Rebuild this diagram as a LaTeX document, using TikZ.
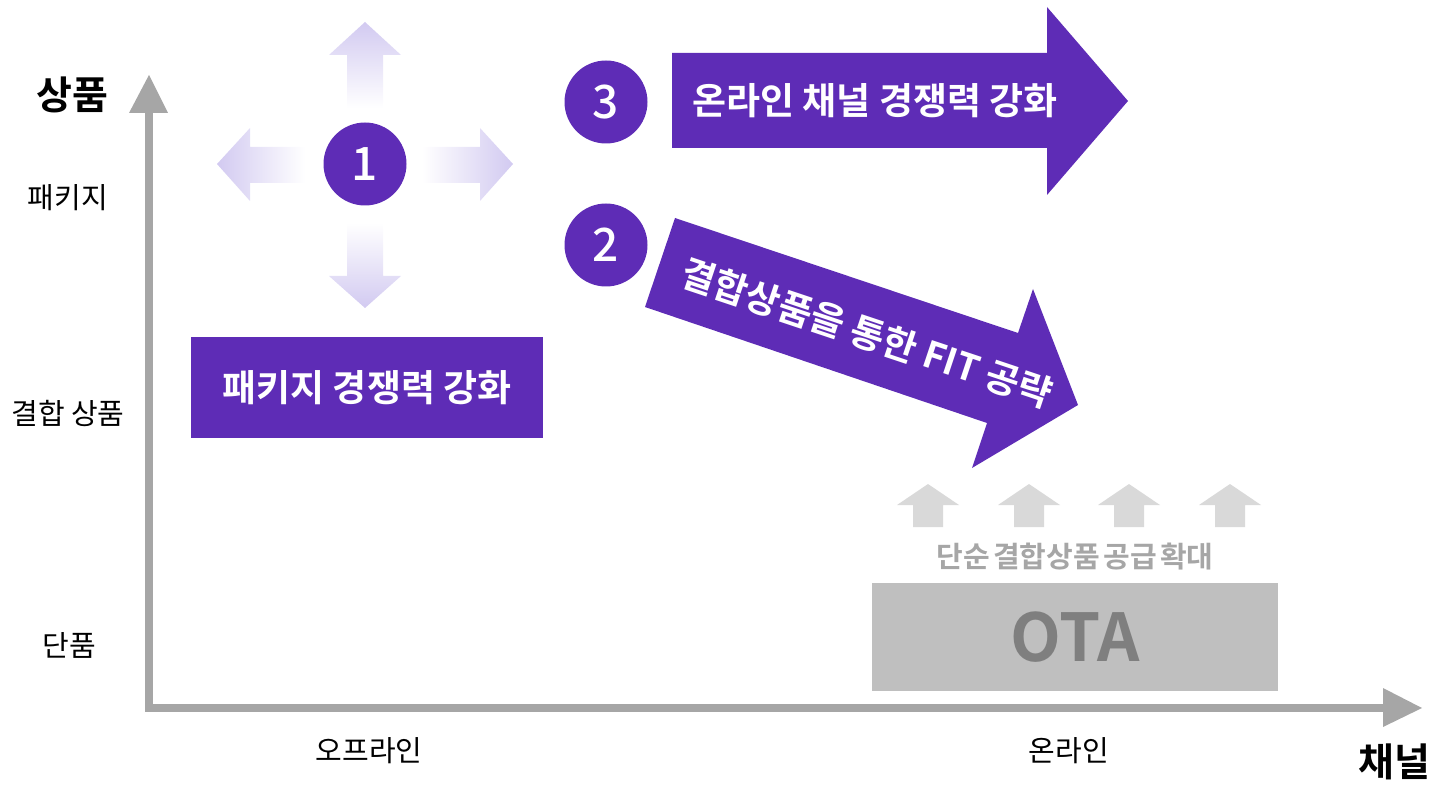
\documentclass[tikz,border=0pt]{standalone}
\usepackage{fontspec}
\setmainfont{Noto Sans CJK KR}[BoldFont={* Bold}]
\newfontfamily\medio{Noto Sans CJK KR Medium}
\usetikzlibrary{positioning}
\definecolor{morado}{HTML}{5E2CB6}
\definecolor{lila}{HTML}{C3B8EC}
\definecolor{gris}{HTML}{A6A6A6}
\definecolor{grisclaro}{HTML}{D9D9D9}
\definecolor{grisota}{HTML}{BFBFBF}
\definecolor{grisoscuro}{HTML}{7F7F7F}

\begin{document}
\begin{tikzpicture}[x=1pt, y=-1pt,
  numero/.style={circle, fill=morado, minimum size=83pt, inner sep=0pt,
                 text=white, font=\medio\fontsize{46}{46}\selectfont},
  textobanda/.style={text=white, font=\fontsize{37}{37}\selectfont\bfseries},
  etiqueta/.style={font=\fontsize{29}{29}\selectfont},
  ejetitulo/.style={font=\fontsize{39}{39}\selectfont\bfseries}]

  \useasboundingbox (0,0) rectangle (1430,786);

  % --- Ejes (producto / canal) ---
  \draw[gris, line width=8pt] (149,113) |- (1383,708);
  \fill[gris] (129,113) -- (149,75) -- (168,113) -- cycle;
  \fill[gris] (1383,688) -- (1422,708) -- (1383,727) -- cycle;

  \node[ejetitulo] (producto) at (72,95) {상품};
  \node[ejetitulo] (canal) at (1394,762) {채널};

  \node[etiqueta] (paq) at (68,198) {패키지};
  \node[etiqueta] (comb) at (68,413) {결합 상품};
  \node[etiqueta] (unico) at (69,645) {단품};

  \node[etiqueta] (offline) at (369,751) {오프라인};
  \node[etiqueta] (online) at (1069,751) {온라인};

  % --- Flechas difuminadas alrededor del 1 ---
  \shade[top color=lila!75, middle color=lila, bottom color=white]
    (347,108) -- (347,55) -- (329,55) -- (365,22) -- (401,55) -- (383,55) -- (383,108) -- cycle;
  \shade[top color=white, middle color=lila, bottom color=lila!75]
    (347,223) -- (347,276) -- (329,276) -- (365,308) -- (401,276) -- (383,276) -- (383,223) -- cycle;
  \shade[left color=lila!75, middle color=lila, right color=white]
    (305,147) -- (250,147) -- (250,128) -- (217,164) -- (250,201) -- (250,183) -- (305,183) -- cycle;
  \shade[left color=white, middle color=lila, right color=lila!75]
    (422,147) -- (480,147) -- (480,128) -- (513,164) -- (480,201) -- (480,183) -- (422,183) -- cycle;

  \node[numero] (uno) at (365,164) {1};

  \node[fill=morado, minimum width=352pt, minimum height=101pt, textobanda]
    (paquete) at (367,387.5) {패키지 경쟁력 강화};

  % --- 3: canal online ---
  \node[numero] (tres) at (606,102) {3};
  \fill[morado] (672,53) -- (1047,53) -- (1047,7) -- (1128,101) -- (1047,195)
    -- (1047,148) -- (672,148) -- cycle;
  \node[textobanda] (fuerza) at (875,101) {온라인 채널 경쟁력 강화};

  % --- 2: producto combinado (FIT) ---
  \node[numero] (dos) at (606,245) {2};
  \fill[morado] (675,218) -- (1018,333) -- (1033,289) -- (1078,405) -- (972,468)
    -- (987,423) -- (645,307) -- cycle;
  \node[textobanda, rotate=-18.5] (fit) at (867,333) {결합상품을 통한 FIT 공략};

  % --- OTA ---
  \foreach \x in {928,1029,1129,1230} {
    \fill[grisclaro] (\x-15,527) -- (\x-15,505) -- (\x-31,505) -- (\x,484)
      -- (\x+31,505) -- (\x+15,505) -- (\x+15,527) -- cycle;
  }
  \node[text=gris, font={\fontsize{29}{29}\selectfont\bfseries\spaceskip=0.12em\relax}]
    (simple) at (1075,557) {단순 결합상품 공급 확대};
  \node[fill=grisota, minimum width=406pt, minimum height=108pt, text=grisoscuro,
        font=\fontsize{66}{66}\selectfont\bfseries] (ota) at (1075,637) {OTA};

\end{tikzpicture}
\end{document}
